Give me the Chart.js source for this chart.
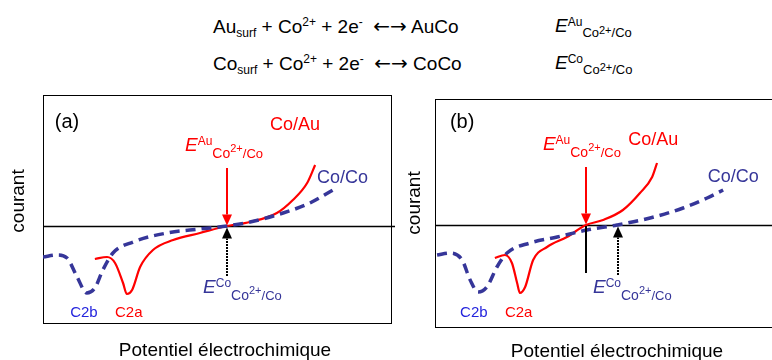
<!DOCTYPE html>
<html>
<head>
<meta charset="utf-8">
<script src="https://cdn.jsdelivr.net/npm/chart.js@4.4.1/dist/chart.umd.min.js"></script>
<style>
  body { margin: 0; background: #fff; font-family: "Liberation Sans", Arial, sans-serif; }
  #wrap { position: relative; width: 772px; height: 360px; overflow: hidden; }
  .eq { position: absolute; font-size: 19px; line-height: 20px; white-space: pre; color: #000; }
  .lo { position: relative; top: 4px; font-size: 12px; }
  .hi { position: relative; top: -7px; font-size: 12px; }
  .arr { font-family: "DejaVu Sans", sans-serif; font-size: 20px; }
  .esup { position: relative; top: -6px; font-size: 12px; }
  .esub { position: relative; top: 5px; font-size: 13px; }
  .esub2 { position: relative; top: 2px; font-size: 11px; }
  canvas { position: absolute; }
</style>
</head>
<body>
<div id="wrap">
  <div class="eq" style="left:213px; top:16px">Au<span class="lo">surf</span> + Co<span class="hi">2+</span> + 2e<span class="hi">-</span>  <span class="arr">←→</span> AuCo</div>
  <div class="eq" style="left:213px; top:53px">Co<span class="lo">surf</span> + Co<span class="hi">2+</span> + 2e<span class="hi">-</span>  <span class="arr">←→</span> CoCo</div>
  <div class="eq" style="left:555px; top:16px"><i>E</i><span class="esup">Au</span><span class="esub">Co</span><span class="esub2">2+</span><span class="esub">/Co</span></div>
  <div class="eq" style="left:555px; top:53px"><i>E</i><span class="esup">Co</span><span class="esub">Co</span><span class="esub2">2+</span><span class="esub">/Co</span></div>
  <canvas id="chartA" width="400" height="275" style="left:0; top:85px"></canvas>
  <canvas id="chartB" width="405" height="275" style="left:395px; top:85px"></canvas>
</div>

<script>
    // panel (a) : potential (0-100 across the box) and current (arbitrary units)
    var potA_CoCo = [0, 4.0, 6.9, 9.8, 12.6, 14.9, 17.2, 20.1, 25.9, 35.6, 45.1, 52.9, 59.5, 69.0, 76.7, 83.3];
    var curA_CoCo = [-3.1, -2.9, -3.2, -5.1, -6.7, -6.2, -4.4, -2.7, -1.6, -0.7, -0.3, 0, 0.4, 1.3, 2.3, 3.6];
    var potA_CoAu = [14.9, 18.4, 20.7, 23.0, 24.1, 25.6, 27.9, 31.6, 37.4, 45.1, 52.9, 59.5, 67.2, 71.8, 75.9, 78.2];
    var curA_CoAu = [-3.3, -3.1, -3.7, -5.7, -6.8, -6.4, -4.1, -2.4, -1.4, -0.7, 0, 0.4, 1.3, 2.6, 4.3, 6.1];
    var eqA = { au: 52.9, co: 52.9 };

    // panel (b)
    var potB_CoCo = [0.6, 4.3, 7.8, 10.1, 12.4, 14.9, 17.8, 20.7, 27.3, 35.1, 43.7, 52.3, 61.8, 71.3, 78.2, 82.8];
    var curB_CoCo = [-3.0, -2.8, -3.5, -5.5, -6.7, -6.2, -4.2, -2.8, -1.8, -1.2, -0.5, 0, 0.7, 1.7, 2.7, 3.5];
    var potB_CoAu = [17.2, 20.1, 22.1, 23.6, 24.4, 25.9, 28.2, 32.2, 37.9, 43.4, 48.3, 54.0, 58.9, 62.4, 63.8];
    var curB_CoAu = [-3.3, -3.0, -3.8, -5.8, -6.8, -6.2, -3.5, -2.2, -1.2, 0, 0.5, 1.5, 3.2, 4.8, 6.2];
    var eqB = { au: 43.4, co: 52.6 };

    var RED = '#ff0000';
    var BLUE = '#363699';
    var BLUE2 = '#2424dd';
    var FONT = '"Liberation Sans", Arial, sans-serif';

    function pts(xs, ys) {
        return xs.map(function (x, i) { return { x: x, y: ys[i] }; });
    }

    function richText(ctx, x, y, parts, color) {
        ctx.save();
        ctx.fillStyle = color;
        ctx.textBaseline = 'alphabetic';
        ctx.textAlign = 'left';
        parts.forEach(function (p) {
            ctx.font = (p.it ? 'italic ' : '') + p.size + 'px ' + FONT;
            ctx.fillText(p.t, x, y + (p.dy || 0));
            x += ctx.measureText(p.t).width;
        });
        ctx.restore();
    }

    function eLabel(sup) {
        return [
            { t: 'E', size: 19, it: true },
            { t: sup, size: 12, dy: -6 },
            { t: 'Co', size: 14, dy: 7 },
            { t: '2+', size: 11, dy: 1 },
            { t: '/Co', size: 13, dy: 7 }
        ];
    }

    function arrow(ctx, x, yFrom, yTo, color, dotted) {
        var dir = yTo > yFrom ? 1 : -1;
        var head = 11;
        ctx.save();
        ctx.strokeStyle = color;
        ctx.fillStyle = color;
        ctx.lineWidth = 2;
        if (dotted) ctx.setLineDash([2, 1]);
        ctx.beginPath();
        ctx.moveTo(x, yFrom);
        ctx.lineTo(x, yTo - dir * head);
        ctx.stroke();
        ctx.setLineDash([]);
        ctx.beginPath();
        ctx.moveTo(x, yTo);
        ctx.lineTo(x - 5, yTo - dir * head);
        ctx.lineTo(x + 5, yTo - dir * head);
        ctx.closePath();
        ctx.fill();
        ctx.restore();
    }

    var schemaPlugin = {
        id: 'schema',
        beforeDatasetsDraw: function (chart, args, o) {
            var ctx = chart.ctx, a = chart.chartArea, ys = chart.scales.y;
            ctx.save();
            ctx.strokeStyle = '#000';
            ctx.lineWidth = 1;
            ctx.strokeRect(a.left + 0.5, a.top + 0.5, a.width, a.height);
            var y0 = Math.round(ys.getPixelForValue(0)) + 0.5;
            ctx.lineWidth = 1.6;
            ctx.beginPath();
            ctx.moveTo(a.left, y0);
            ctx.lineTo(a.right + o.zeroOver, y0);
            ctx.stroke();
            ctx.restore();
        },
        afterDatasetsDraw: function (chart, args, o) {
            var ctx = chart.ctx, a = chart.chartArea, xs = chart.scales.x, ys = chart.scales.y;
            var px = function (v) { return xs.getPixelForValue(v); };
            var py = function (v) { return ys.getPixelForValue(v); };

            // arrows
            arrow(ctx, Math.round(px(o.eAu)), py(5.8), py(0.05), RED, false);
            arrow(ctx, Math.round(px(o.eCo)), py(-5.0), py(-0.15), '#000', true);
            if (o.stem) {
                ctx.save();
                ctx.strokeStyle = '#000';
                ctx.lineWidth = 2;
                ctx.beginPath();
                ctx.moveTo(Math.round(px(o.eAu)), py(-0.1));
                ctx.lineTo(Math.round(px(o.eAu)), py(-4.8));
                ctx.stroke();
                ctx.restore();
            }

            // labels
            o.labels.forEach(function (l) {
                var parts = l.parts || [{ t: l.t, size: l.size }];
                richText(ctx, px(l.x), py(l.y), parts, l.color);
            });

            // axis titles
            ctx.save();
            ctx.fillStyle = '#000';
            ctx.font = '19px ' + FONT;
            ctx.textAlign = 'center';
            ctx.textBaseline = 'alphabetic';
            ctx.fillText('Potentiel électrochimique', px(52.3), a.bottom + o.titleDy);
            ctx.translate(a.left - o.yTitleDx, py(o.yTitleAt));
            ctx.rotate(-Math.PI / 2);
            ctx.textBaseline = 'middle';
            ctx.fillText('courant', 0, 0);
            ctx.restore();
        }
    };

    function makeChart(id, coCo, coAu, yMin, yMax, pad, extra) {
        return new Chart(document.getElementById(id), {
            type: 'line',
            data: {
                datasets: [
                    {
                        label: 'Co/Co',
                        data: coCo,
                        borderColor: BLUE,
                        borderWidth: 3.5,
                        borderDash: [10, 6],
                        pointRadius: 0,
                        cubicInterpolationMode: 'monotone',
                        fill: false
                    },
                    {
                        label: 'Co/Au',
                        data: coAu,
                        borderColor: RED,
                        borderWidth: 2.2,
                        pointRadius: 0,
                        cubicInterpolationMode: 'monotone',
                        fill: false
                    }
                ]
            },
            options: {
                responsive: false,
                animation: false,
                devicePixelRatio: 1,
                layout: { padding: pad },
                scales: {
                    x: { type: 'linear', min: 0, max: 100, display: false },
                    y: { type: 'linear', min: yMin, max: yMax, display: false }
                },
                plugins: {
                    legend: { display: false },
                    tooltip: { enabled: false },
                    schema: extra
                }
            },
            plugins: [schemaPlugin]
        });
    }

    makeChart('chartA', pts(potA_CoCo, curA_CoCo), pts(potA_CoAu, curA_CoAu), -9.7, 13.1,
        { left: 43, right: 9, top: 10, bottom: 37 },
        {
            eAu: eqA.au, eCo: eqA.co, stem: false, zeroOver: 4,
            titleDy: 33, yTitleDx: 24, yTitleAt: 2.5,
            labels: [
                { x: 3.4, y: 9.8, t: '(a)', size: 20, color: '#000' },
                { x: 65.2, y: 9.6, t: 'Co/Au', size: 18, color: RED },
                { x: 78.7, y: 4.3, t: 'Co/Co', size: 18, color: BLUE },
                { x: 40.8, y: 7.5, parts: eLabel('Au'), color: RED },
                { x: 46.0, y: -6.7, parts: eLabel('Co'), color: BLUE },
                { x: 7.8, y: -9.1, t: 'C2b', size: 15, color: BLUE2 },
                { x: 20.7, y: -9.1, t: 'C2a', size: 15, color: RED }
            ]
        });

    makeChart('chartB', pts(potB_CoCo, curB_CoCo), pts(potB_CoAu, curB_CoAu), -10.2, 12.6,
        { left: 40, right: 17, top: 14, bottom: 33 },
        {
            eAu: eqB.au, eCo: eqB.co, stem: true, zeroOver: 20,
            titleDy: 30, yTitleDx: 20, yTitleAt: 2.2,
            labels: [
                { x: 4.3, y: 9.7, t: '(b)', size: 20, color: '#000' },
                { x: 55.5, y: 8.0, t: 'Co/Au', size: 18, color: RED },
                { x: 78.4, y: 4.3, t: 'Co/Co', size: 18, color: BLUE },
                { x: 31.0, y: 7.5, parts: eLabel('Au'), color: RED },
                { x: 45.4, y: -6.8, parts: eLabel('Co'), color: BLUE },
                { x: 7.2, y: -9.2, t: 'C2b', size: 15, color: BLUE2 },
                { x: 20.1, y: -9.2, t: 'C2a', size: 15, color: RED }
            ]
        });
</script>
</body>
</html>
